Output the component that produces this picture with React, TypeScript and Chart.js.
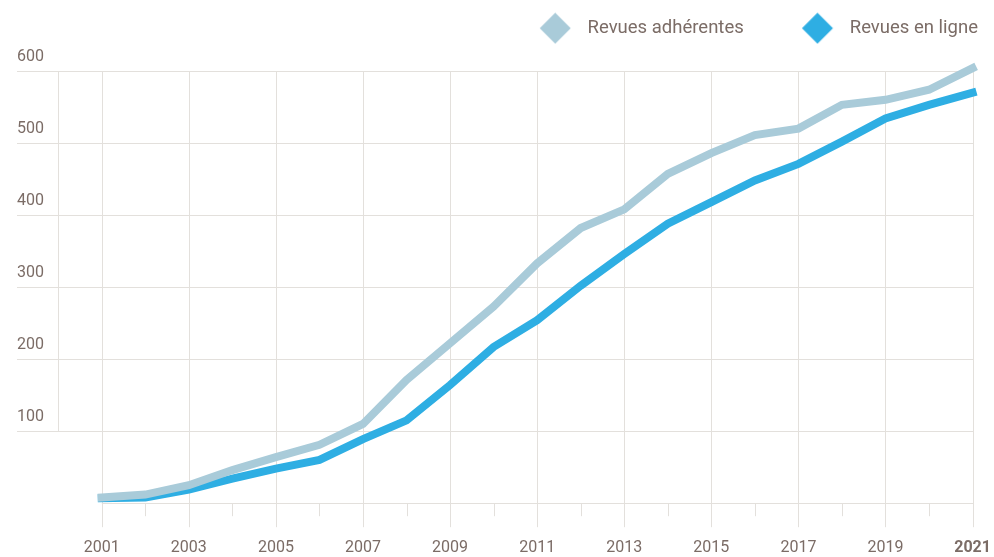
import { useEffect, useRef } from 'react';
import { Chart, registerables } from 'chart.js';

Chart.register(...registerables);

// ---- data ----
const YEARS = [2001, 2002, 2003, 2004, 2005, 2006, 2007, 2008, 2009, 2010, 2011, 2012, 2013, 2014, 2015, 2016, 2017, 2018, 2019, 2020, 2021];
const ADHERENTES = [8, 12, 25, 46, 64, 81, 110, 171, 222, 273, 333, 382, 408, 457, 486, 511, 520, 553, 560, 574, 604];
const EN_LIGNE = [7, 8, 19, 34, 48, 60, 89, 115, 164, 217, 254, 302, 346, 388, 418, 448, 471, 502, 534, 553, 570];
const SERIES_LABELS = ['Revues adhérentes', 'Revues en ligne'];
const Y_TICKS = [0, 100, 200, 300, 400, 500, 600];
const GRID_YEARS = [2000, 2001, 2002, 2003, 2004, 2005, 2006, 2007, 2008, 2009, 2010, 2011, 2012, 2013, 2014, 2015, 2016, 2017, 2018, 2019, 2020, 2021];

// ---- style ----
const TEXT = '#7b6c66';
const GRID = '#e3e0dc';
const LIGHT = '#a9cbd9';
const BLUE = '#2eaee3';
const FONT = 'Roboto, "Noto Sans", sans-serif';

function makeDiamond(color: string): HTMLCanvasElement {
  const c = document.createElement('canvas');
  c.width = 74;
  c.height = 32;
  const g = c.getContext('2d')!;
  const cx = 57.3, cy = 16, r = 15.5;
  g.fillStyle = color;
  g.beginPath();
  g.moveTo(cx, cy - r);
  g.lineTo(cx + r, cy);
  g.lineTo(cx, cy + r);
  g.lineTo(cx - r, cy);
  g.closePath();
  g.fill();
  return c;
}

const gridPlugin = {
  id: 'customGrid',
  beforeDatasetsDraw(chart: any) {
    const { ctx, chartArea, scales } = chart;
    const x = scales.x, y = scales.y;
    const first = YEARS[0];
    const last = YEARS[YEARS.length - 1];
    const xEnd = x.getPixelForValue(last);
    const y0 = y.getPixelForValue(0);
    const yTop = y.getPixelForValue(Y_TICKS[Y_TICKS.length - 1]);
    ctx.save();
    ctx.strokeStyle = GRID;
    ctx.lineWidth = 1;
    ctx.beginPath();
    Y_TICKS.forEach((v) => {
      const py = Math.round(y.getPixelForValue(v)) + 0.5;
      const xs = v === 0 ? x.getPixelForValue(first) : chartArea.left;
      ctx.moveTo(xs, py);
      ctx.lineTo(xEnd + 0.5, py);
    });
    GRID_YEARS.forEach((yr) => {
      const px = Math.round(x.getPixelForValue(yr)) + 0.5;
      if (yr < first) {
        ctx.moveTo(px, yTop);
        ctx.lineTo(px, y.getPixelForValue(Y_TICKS[1]));
      } else if ((yr - first) % 2 === 0) {
        ctx.moveTo(px, yTop);
        ctx.lineTo(px, y0 + 24);
      } else {
        ctx.moveTo(px, y0);
        ctx.lineTo(px, y0 + 13);
      }
    });
    ctx.stroke();
    ctx.restore();
  },
};

export default function App() {
  const ref = useRef<HTMLCanvasElement | null>(null);

  useEffect(() => {
    if (!ref.current) return;
    const colors = [LIGHT, BLUE];
    const diamonds = colors.map(makeDiamond);
    const chart = new Chart(ref.current, {
      type: 'line',
      data: {
        datasets: [
          {
            label: SERIES_LABELS[0],
            data: YEARS.map((yr, i) => ({ x: yr, y: ADHERENTES[i] })),
            borderColor: LIGHT,
            backgroundColor: LIGHT,
            borderWidth: 8,
            pointRadius: 0,
            tension: 0,
            borderCapStyle: 'square',
            clip: false,
          },
          {
            label: SERIES_LABELS[1],
            data: YEARS.map((yr, i) => ({ x: yr, y: EN_LIGNE[i] })),
            borderColor: BLUE,
            backgroundColor: BLUE,
            borderWidth: 8,
            pointRadius: 0,
            tension: 0,
            borderCapStyle: 'square',
            clip: false,
          },
        ],
      },
      options: {
        animation: false,
        responsive: true,
        maintainAspectRatio: false,
        layout: { padding: { left: 17, right: 6, top: 9, bottom: 0 } },
        plugins: {
          legend: {
            position: 'top',
            align: 'end',
            labels: {
              usePointStyle: true,
              pointStyleWidth: 86.75,
              padding: 10,
              color: TEXT,
              font: { family: FONT, size: 18.5 },
              generateLabels: (c: any) =>
                c.data.datasets.map((ds: any, i: number) => ({
                  text: ds.label,
                  pointStyle: diamonds[i],
                  fillStyle: colors[i],
                  strokeStyle: colors[i],
                  lineWidth: 0,
                  hidden: false,
                  datasetIndex: i,
                  fontColor: TEXT,
                })),
            },
          },
          title: {
            display: true,
            text: ' ',
            weight: 500,
            font: { size: 10, lineHeight: 1 },
            padding: { top: 13.5, bottom: 0 },
          },
          tooltip: { enabled: false },
        },
        scales: {
          x: {
            type: 'linear',
            min: 1999.053,
            max: 2021.298,
            border: { display: false },
            grid: { display: false, drawTicks: true, tickLength: 35 },
            afterBuildTicks: (scale: any) => {
              scale.ticks = GRID_YEARS.map((v) => ({ value: v }));
            },
            ticks: {
              autoSkip: false,
              maxRotation: 0,
              padding: 3,
              color: TEXT,
              font: (c: any) => ({
                family: FONT,
                size: 16,
                lineHeight: 0.8,
                weight: c.tick && c.tick.value === YEARS[YEARS.length - 1] ? 'bold' : 'normal',
              }),
              callback: (v: any) => (v >= YEARS[0] && (v - YEARS[0]) % 2 === 0 ? String(v) : ''),
            },
          },
          y: {
            type: 'linear',
            min: 0,
            max: 600,
            border: { display: false },
            grid: { display: false, drawTicks: false },
            afterBuildTicks: (scale: any) => {
              scale.ticks = Y_TICKS.map((v) => ({ value: v }));
            },
            ticks: {
              mirror: true,
              padding: 0,
              labelOffset: -14,
              color: TEXT,
              font: { family: FONT, size: 16 },
              callback: (v: any) => (v === 0 ? '' : String(v)),
            },
          },
        },
      },
      plugins: [gridPlugin],
    } as any);
    return () => chart.destroy();
  }, []);

  return (
    <div style={{ position: 'fixed', left: 0, top: 0, width: 994, height: 557 }}>
      <canvas ref={ref} />
    </div>
  );
}
